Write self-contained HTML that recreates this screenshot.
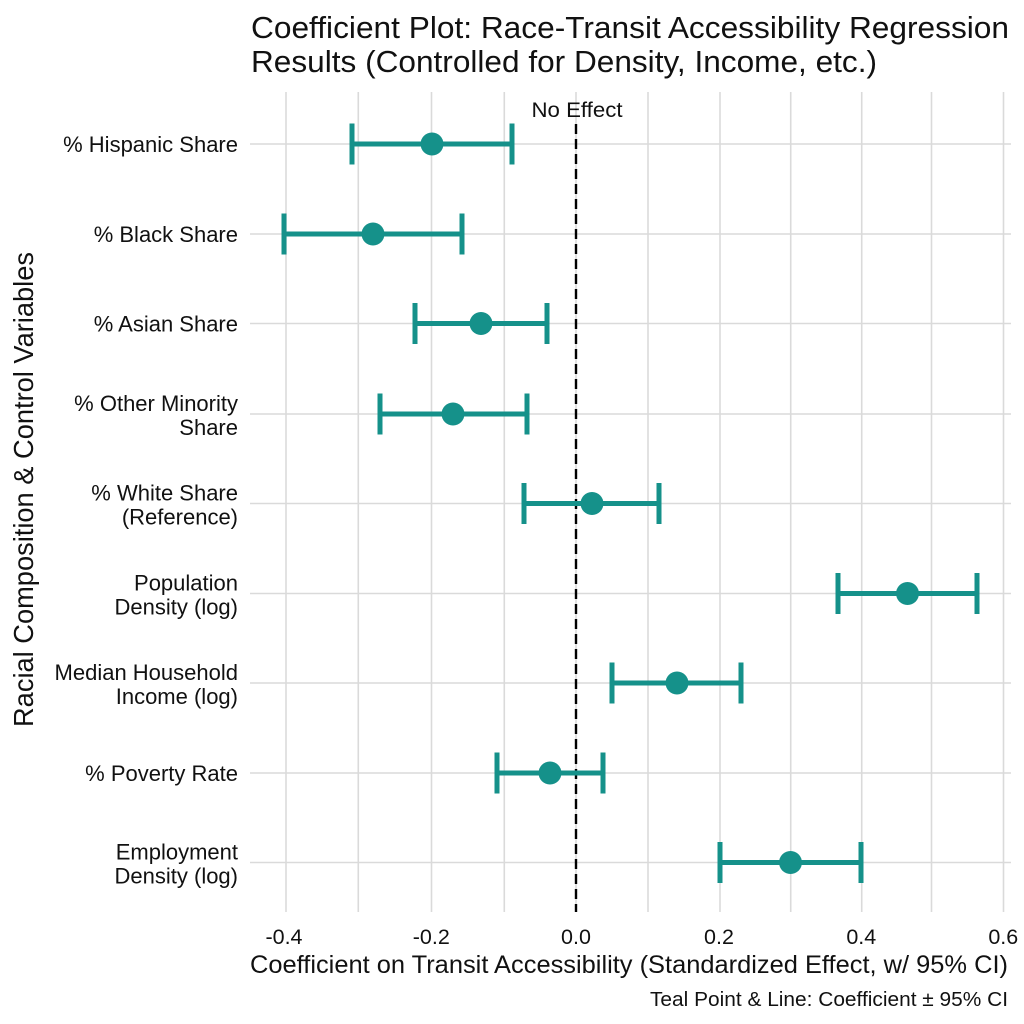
<!DOCTYPE html>
<html><head><meta charset="utf-8"><style>
html,body{margin:0;padding:0;background:#fff;}
svg{display:block;}
text{font-family:"Liberation Sans",Arial,sans-serif;fill:#111;}
</style></head><body>
<svg width="1024" height="1024" viewBox="0 0 1024 1024" xmlns="http://www.w3.org/2000/svg">
<rect width="1024" height="1024" fill="#fff"/>
<!-- title -->
<text x="251" y="38" font-size="31" textLength="758" lengthAdjust="spacingAndGlyphs">Coefficient Plot: Race-Transit Accessibility Regression</text>
<text x="251" y="72" font-size="31" textLength="626" lengthAdjust="spacingAndGlyphs">Results (Controlled for Density, Income, etc.)</text>
<!-- vertical grid -->
<g stroke="#dadada" stroke-width="1.6">
<line x1="286" y1="92" x2="286" y2="912"/>
<line x1="358.3" y1="92" x2="358.3" y2="912"/>
<line x1="431.5" y1="92" x2="431.5" y2="912"/>
<line x1="504.3" y1="92" x2="504.3" y2="912"/>
<line x1="576" y1="92" x2="576" y2="912"/>
<line x1="648" y1="92" x2="648" y2="912"/>
<line x1="720" y1="92" x2="720" y2="912"/>
<line x1="790.7" y1="92" x2="790.7" y2="912"/>
<line x1="861.7" y1="92" x2="861.7" y2="912"/>
<line x1="931.5" y1="92" x2="931.5" y2="912"/>
<line x1="1003.5" y1="92" x2="1003.5" y2="912"/>
</g>
<!-- horizontal grid -->
<g stroke="#dadada" stroke-width="1.6">
<line x1="250" y1="144" x2="1011" y2="144"/>
<line x1="250" y1="234" x2="1011" y2="234"/>
<line x1="250" y1="323.5" x2="1011" y2="323.5"/>
<line x1="250" y1="414" x2="1011" y2="414"/>
<line x1="250" y1="503.5" x2="1011" y2="503.5"/>
<line x1="250" y1="593.5" x2="1011" y2="593.5"/>
<line x1="250" y1="683" x2="1011" y2="683"/>
<line x1="250" y1="773" x2="1011" y2="773"/>
<line x1="250" y1="862.5" x2="1011" y2="862.5"/>
</g>
<!-- no effect line -->
<line x1="576" y1="124" x2="576" y2="912" stroke="#000" stroke-width="2.4" stroke-dasharray="10 5"/>
<text x="577" y="117" font-size="21" text-anchor="middle" textLength="91" lengthAdjust="spacingAndGlyphs">No Effect</text>
<!-- error bars -->
<g stroke="#15918a" stroke-width="5" fill="none">
<path d="M352 144H512M352 123.5V164.5M512 123.5V164.5"/>
<path d="M284 234H462M284 213.5V254.5M462 213.5V254.5"/>
<path d="M415 323.5H547M415 303V344M547 303V344"/>
<path d="M380 414H527M380 393.5V434.5M527 393.5V434.5"/>
<path d="M524 503.5H659M524 483V524M659 483V524"/>
<path d="M838 593.5H977M838 573V614M977 573V614"/>
<path d="M612 683H741M612 662.5V703.5M741 662.5V703.5"/>
<path d="M497 773H603M497 752.5V793.5M603 752.5V793.5"/>
<path d="M720 862.5H861M720 842V883M861 842V883"/>
</g>
<g fill="#15918a">
<circle cx="432" cy="144" r="11.5"/>
<circle cx="373" cy="234" r="11.5"/>
<circle cx="481" cy="323.5" r="11.5"/>
<circle cx="453" cy="414" r="11.5"/>
<circle cx="592" cy="503.5" r="11.5"/>
<circle cx="907.5" cy="593.5" r="11.5"/>
<circle cx="677" cy="683" r="11.5"/>
<circle cx="550" cy="773" r="11.5"/>
<circle cx="790.5" cy="862.5" r="11.5"/>
</g>
<!-- y labels -->
<g font-size="22" text-anchor="end">
<text x="238" y="152">% Hispanic Share</text>
<text x="238" y="242">% Black Share</text>
<text x="238" y="331.5">% Asian Share</text>
<text x="238" y="411">% Other Minority</text>
<text x="238" y="435">Share</text>
<text x="238" y="500.5">% White Share</text>
<text x="238" y="524.5">(Reference)</text>
<text x="238" y="590.5">Population</text>
<text x="238" y="614.5">Density (log)</text>
<text x="238" y="680">Median Household</text>
<text x="238" y="704">Income (log)</text>
<text x="238" y="781">% Poverty Rate</text>
<text x="238" y="859.5">Employment</text>
<text x="238" y="883.5">Density (log)</text>
</g>
<!-- y axis title -->
<text transform="translate(33,489.5) rotate(-90)" font-size="27.5" text-anchor="middle" textLength="475" lengthAdjust="spacingAndGlyphs">Racial Composition &amp; Control Variables</text>
<!-- x tick labels -->
<g font-size="21.5" text-anchor="middle">
<text x="284" y="944">-0.4</text>
<text x="431.3" y="944">-0.2</text>
<text x="576" y="944">0.0</text>
<text x="719" y="944">0.2</text>
<text x="861.3" y="944">0.4</text>
<text x="1003.3" y="944">0.6</text>
</g>
<!-- x title -->
<text x="250" y="973" font-size="25" textLength="758" lengthAdjust="spacingAndGlyphs">Coefficient on Transit Accessibility (Standardized Effect, w/ 95% CI)</text>
<text x="650" y="1006" font-size="20.5" textLength="358" lengthAdjust="spacingAndGlyphs">Teal Point &amp; Line: Coefficient ± 95% CI</text>
</svg>
</body></html>
